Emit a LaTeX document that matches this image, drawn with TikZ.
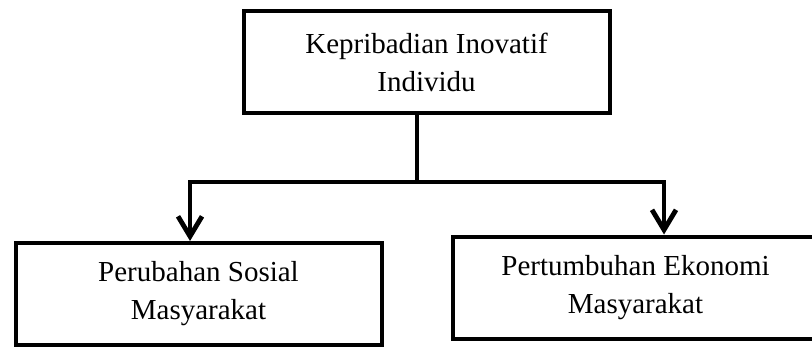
\documentclass[tikz,border=0pt]{standalone}
\usepackage{fontspec}
\setmainfont{Liberation Serif}
\usetikzlibrary{positioning,arrows.meta,calc}

\begin{document}
\begin{tikzpicture}[x=0.5pt,y=-0.5pt,
  kotak/.style={draw=black,line width=2pt,fill=white,align=center,
    font=\fontsize{14.5}{19}\selectfont,minimum width=183pt,minimum height=51pt,inner sep=0pt},
  garis/.style={line width=2.4pt}]
\useasboundingbox (0,0) rectangle (812,347);
% boxes
\node[kotak] (inovatif) at (426.5,62.5) {Kepribadian Inovatif\\Individu};
\node[kotak] (sosial) at (198.5,294) {Perubahan Sosial\\Masyarakat};
\node[kotak] (ekonomi) at (635.5,287.5) {Pertumbuhan Ekonomi\\Masyarakat};
% branch
\coordinate (cabang) at (417,182);
\coordinate (kiri) at (190,182);
\coordinate (kanan) at (664,182);
\draw[garis] (cabang |- inovatif.south) -- (cabang);
\draw[garis,{Straight Barb[length=10pt,width=12pt]}-{Straight Barb[length=10pt,width=12pt]}]
  (kiri |- sosial.north) -- (kiri) -- (kanan) -- (kanan |- ekonomi.north);
\end{tikzpicture}
\end{document}
